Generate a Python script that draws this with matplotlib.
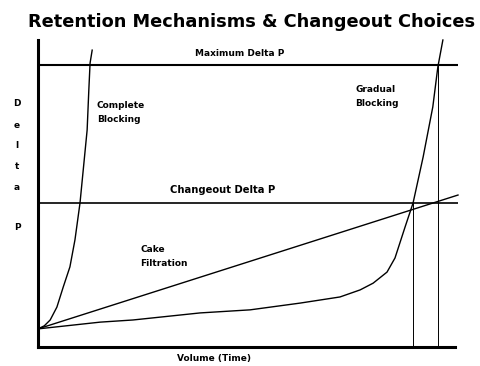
import matplotlib
matplotlib.use("Agg")
import matplotlib.pyplot as plt

# Data (volume/time 0..100, delta P 0..100)
complete_x = [0, 1.5, 2.9, 4.5, 6.0, 7.6, 8.8, 10.0, 10.7, 11.7, 12.1, 12.4, 12.9]
complete_y = [5.9, 6.9, 8.8, 13.0, 19.5, 26.1, 34.9, 46.9, 56.7, 70.7, 83.7, 92.5, 96.7]

cake_x = [0, 100]
cake_y = [5.9, 49.5]

gradual_x = [0, 14.8, 22.6, 38.6, 50.5, 62.4, 71.9, 76.7, 79.8, 83.1, 85.0,
             87.4, 89.3, 91.7, 94.0, 95.2, 96.4]
gradual_y = [5.9, 8.1, 8.8, 11.1, 12.1, 14.3, 16.3, 18.6, 20.8, 24.4, 29.0,
             39.1, 46.9, 61.9, 78.2, 91.2, 100.0]

max_delta_p = 91.9
changeout_delta_p = 46.9
changeout_volumes = [89.3, 95.2]
changeout_tops = [46.9, 91.9]

fig = plt.figure(figsize=(4.8, 3.66), dpi=100)
W, H = 480, 366
left_px, right_px, top_px, bottom_px = 38, 458, 40, 347
ax = fig.add_axes([left_px / W, (H - bottom_px) / H,
                   (right_px - left_px) / W, (bottom_px - top_px) / H])
ax.set_xlim(0, 100)
ax.set_ylim(0, 100)
for s in ["top", "right"]:
    ax.spines[s].set_visible(False)
for s in ["left", "bottom"]:
    ax.spines[s].set_linewidth(2.2)
ax.spines["bottom"].set_bounds(0, 99.3)
ax.set_xticks([])
ax.set_yticks([])
ax.patch.set_alpha(0)

lw = 1.0
ax.plot(complete_x, complete_y, color="black", lw=lw, clip_on=False)
ax.plot(cake_x, cake_y, color="black", lw=lw, clip_on=False)
ax.plot(gradual_x, gradual_y, color="black", lw=lw, clip_on=False)
ax.axhline(max_delta_p, color="black", lw=1.5)
ax.axhline(changeout_delta_p, color="black", lw=1.2)
for xv, top in zip(changeout_volumes, changeout_tops):
    ax.plot([xv, xv], [0, top], color="black", lw=0.7)

tfont = dict(family="DejaVu Sans", fontweight="heavy", color="black")
fig.text(28 / W, 1 - 22 / H, "Retention Mechanisms & Changeout Choices",
         fontsize=12.8, ha="left", va="center", **tfont)

small = 6.5
ax.text(48.0, 95.5, "Maximum Delta P", fontsize=small, ha="center", va="center", **tfont)
ax.text(14.0, 76.5, "Complete\nBlocking", fontsize=small, ha="left", va="center",
        linespacing=1.7, **tfont)
ax.text(75.5, 81.5, "Gradual\nBlocking", fontsize=small, ha="left", va="center",
        linespacing=1.7, **tfont)
ax.text(31.5, 51.0, "Changeout Delta P", fontsize=7.2, ha="left", va="center", **tfont)
ax.text(24.3, 29.5, "Cake\nFiltration", fontsize=small, ha="left", va="center",
        linespacing=1.7, **tfont)

fig.text(214 / W, 1 - 359 / H, "Volume (Time)", fontsize=small, ha="center",
         va="center", **tfont)
for ch, ypx in zip(["D", "e", "l", "t", "a", "P"], [103, 125, 145, 166, 187, 227]):
    fig.text(17 / W, 1 - ypx / H, ch, fontsize=small, ha="center", va="center", **tfont)

fig.savefig("out.png", dpi=100)
